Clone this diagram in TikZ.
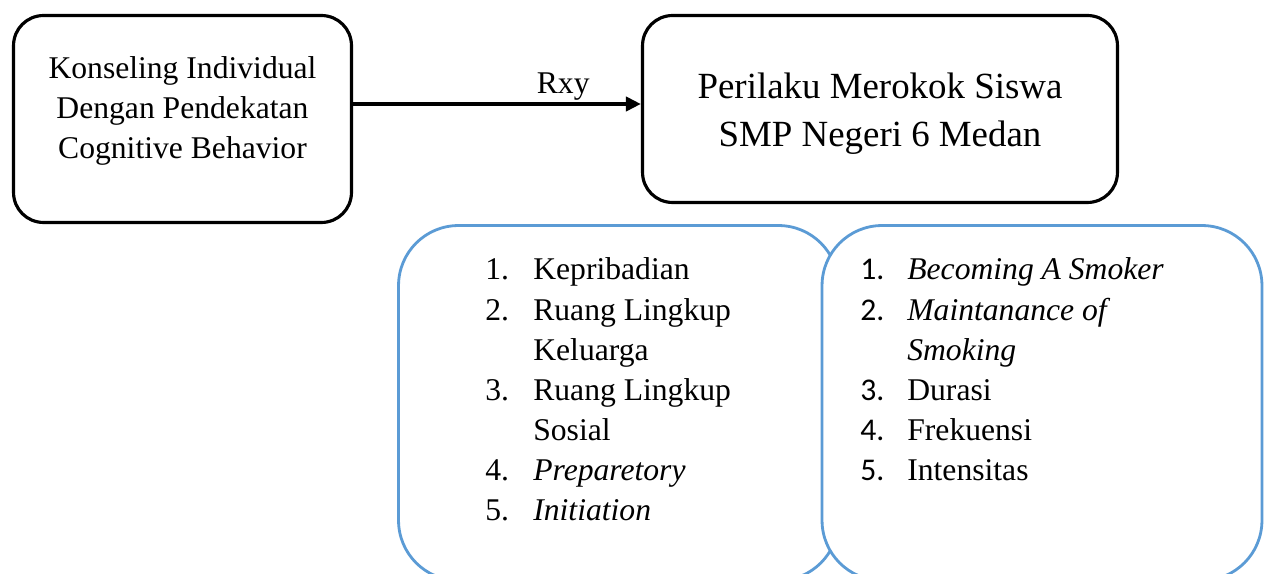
\documentclass[tikz,border=0pt]{standalone}
\usepackage{fontspec}
\setmainfont{Liberation Serif}
\newfontfamily\carlitofont{Carlito}
\usepackage{xcolor}
\usetikzlibrary{shapes, positioning, arrows.meta}
\definecolor{listblue}{RGB}{91,155,213}

\newcommand{\listsize}{\fontsize{18}{22.8}\selectfont}
\newcommand{\titlesize}{\fontsize{21}{27.4}\selectfont}
\newcommand{\cnum}[1]{{\carlitofont #1.}}

\begin{document}
\begin{tikzpicture}[x=0.02cm, y=-0.02cm,
    blackbox/.style={draw, line width=1.8pt, rounded corners=0.6cm},
    bluebox/.style={draw=listblue, fill=white, line width=1.6pt, rounded corners=1.2cm,
        minimum width=8.8cm, minimum height=7.1cm},
    boxtext/.style={align=center, inner sep=0pt},
    listtext/.style={anchor=base west, inner sep=0pt, font=\listsize}]
        \useasboundingbox (0,0) rectangle (1269,574);
        \clip (0,0) rectangle (1269,574);

        \node[blackbox, minimum width=6.76cm, minimum height=4.14cm] (konseling) at (182.5,119) {};
        \node[blackbox, minimum width=9.5cm, minimum height=3.74cm] (perilaku) at (880,109) {};

        \node[boxtext, font=\listsize] (konselingtext) at (182.5,111)
            {Konseling Individual\\Dengan Pendekatan\\Cognitive Behavior};
        \node[boxtext, font=\titlesize] (perilakutext) at (880,114)
            {Perilaku Merokok Siswa\\SMP Negeri 6 Medan};

        \coordinate (rxyline) at (0,104);
        \draw[-{Triangle[length=0.3cm,width=0.28cm]}, line width=2.2pt]
            (konseling.east |- rxyline) -- node[pos=0.73, above, inner sep=1pt, font=\listsize] (rxy) {Rxy}
            (perilaku.west |- rxyline);

        \node[bluebox] (faktor) at (618.5,403) {};
        \node[bluebox] (tahap) at (1042,403) {};

        \node[listtext] (faktorlist) at (485,280) {\begin{tabular}[t]{@{}p{0.96cm}@{}l@{}}
            1. & Kepribadian\\
            2. & Ruang Lingkup\\
               & Keluarga\\
            3. & Ruang Lingkup\\
               & Sosial\\
            4. & \textit{Preparetory}\\
            5. & \textit{Initiation}
        \end{tabular}};

        \node[listtext] (tahaplist) at (860,280) {\begin{tabular}[t]{@{}p{0.94cm}@{}l@{}}
            \cnum{1} & \textit{Becoming A Smoker}\\
            \cnum{2} & \textit{Maintanance of}\\
                     & \textit{Smoking}\\
            \cnum{3} & Durasi\\
            \cnum{4} & Frekuensi\\
            \cnum{5} & Intensitas
        \end{tabular}};
      \end{tikzpicture}
\end{document}
